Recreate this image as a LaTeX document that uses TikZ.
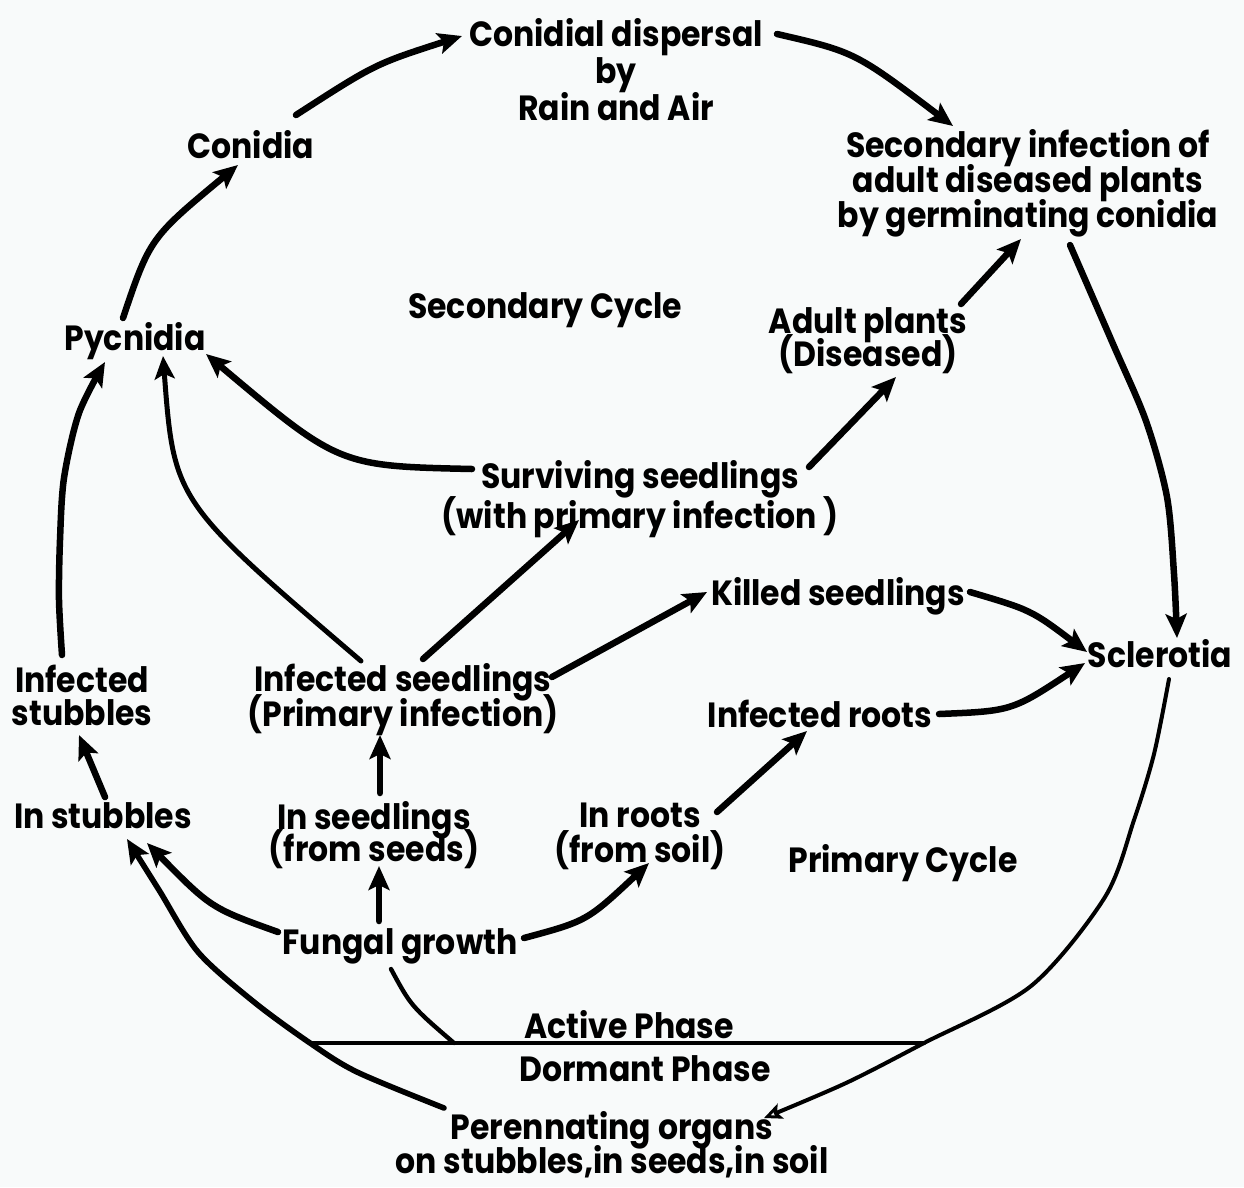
\documentclass[tikz,border=0pt]{standalone}
\usepackage{fontspec}
\setmainfont{Poppins}[UprightFont=* Bold, FakeStretch=0.9]
\usetikzlibrary{arrows.meta,calc}
\definecolor{bg}{RGB}{248,250,250}
\begin{document}
\lineskiplimit=-100pt\relax
\lineskip=0pt\relax
\begin{tikzpicture}[x=1pt,y=-1pt,
  lbl/.style={font=\fontsize{35}{35}\selectfont, align=center, inner sep=0pt},
  bs/.style={font=\fontsize{35}{#1}\selectfont},
  arr/.style={line width=6.5pt, line cap=round, -{Stealth[length=24pt,width=21pt,inset=5pt]}},
  tarr/.style={line width=5pt, line cap=round, -{Stealth[length=23pt,width=20pt,inset=5pt]}},
  marr/.style={line width=5.6pt, line cap=round, -{Stealth[length=24pt,width=21pt,inset=5pt]}},
  oarr/.style={line width=4pt, line cap=round, -{Stealth[open,length=18pt,width=16pt,inset=4pt,line width=3pt]}},
  plain/.style={line width=4.4pt, line cap=round}
]
\fill[bg] (0,0) rectangle (1244,1187);
\useasboundingbox (0,0) rectangle (1244,1187);

% nodes
\node[lbl, bs=37] (cd) at (616,70) {Conidial dispersal\\by\\Rain and Air};
\node[lbl] (con) at (251,145) {Conidia};
\node[lbl, bs=35] (sec) at (1028,183) {Secondary infection of\\adult diseased plants\\by germinating conidia};
\node[lbl] (sc) at (545,310) {Secondary Cycle};
\node[lbl] (pyc) at (135,341) {Pycnidia};
\node[lbl, bs=33] (adult) at (868,341) {Adult plants\\(Diseased)};
\node[lbl, bs=40] (surv) at (640,499) {Surviving seedlings\\(with primary infection )};
\node[lbl] (kill) at (838,596) {Killed seedlings};
\node[lbl] (scl) at (1160,654) {Sclerotia};
\node[lbl, bs=33] (infst) at (82,695) {Infected\\stubbles};
\node[lbl, bs=35] (infse) at (403,700) {Infected seedlings\\(Primary infection)};
\node[lbl] (infr) at (820,714) {Infected roots};
\node[lbl] (inst) at (103,816) {In stubbles};
\node[lbl, bs=32] (inse) at (374,835) {In seedlings\\(from seeds)};
\node[lbl, bs=35] (inro) at (640,836) {In roots\\(from soil)};
\node[lbl] (pc) at (903,863) {Primary Cycle};
\node[lbl] (fung) at (400,946) {Fungal growth};
\node[lbl] (act) at (629,1025) {Active Phase};
\node[lbl] (dorm) at (645,1069) {Dormant Phase};
\node[lbl, bs=34] (per) at (612,1145) {Perennating organs\\on stubbles,in seeds,in soil};

\coordinate (lineL) at (310,1043);
\coordinate (lineR) at (924,1043);
\coordinate (lineF) at (454,1043);

% phase divider
\draw[plain] (lineL) -- (lineR);

% connectors
\draw[arr] ($(con)+(45,-30)$) .. controls (375,64) .. ($(cd)+(-154,-34)$);
\draw[arr] ($(pyc)+(-12,-23)$) .. controls (150,238) .. ($(con)+(-13,20)$);
\draw[arr] ($(cd)+(161,-36)$) .. controls (855,52) .. ($(sec)+(-75,-57)$);
\draw[arr] ($(surv)+(-168,-30)$) .. controls (339,466) .. ($(pyc)+(71,13)$);
\draw[tarr] ($(infse)+(-42,-39)$) .. controls (174,501) .. ($(pyc)+(28,15)$);
\draw[arr] plot[smooth] coordinates {($(infst)+(-20,-40)$) (59,600) (60,540) (64,478) (79,413) ($(pyc)+(-30,21)$)};
\draw[arr] ($(infse)+(20,-41)$) -- ($(surv)+(-61,21)$);
\draw[arr] ($(surv)+(169,-32)$) -- ($(adult)+(28,36)$);
\draw[arr] ($(adult)+(93,-37)$) -- ($(sec)+(-7,56)$);
\draw[arr] plot[smooth] coordinates {($(sec)+(42,62)$) (1113,344) (1146,421) (1167,497) (1174,574) ($(scl)+(17,-16)$)};
\draw[arr] ($(infse)+(149,-23)$) -- ($(kill)+(-131,-4)$);
\draw[arr] ($(kill)+(132,-4)$) .. controls (1031,610) .. ($(scl)+(-73,-2)$);
\draw[arr] ($(infr)+(119,0)$) .. controls (1012,711) .. ($(scl)+(-75,9)$);
\draw[arr] ($(inro)+(77,-24)$) -- ($(infr)+(-13,17)$);
\draw[arr] ($(fung)+(124,-8)$) .. controls (587,921) .. ($(inro)+(9,27)$);
\draw[arr] ($(inst)+(2,-19)$) -- ($(infst)+(-3,40)$);
\draw[arr] ($(inse)+(6,-42)$) -- ($(infse)+(-23,35)$);
\draw[arr] ($(fung)+(-21,-25)$) -- ($(inse)+(5,31)$);
\draw[arr] ($(fung)+(-122,-14)$) .. controls (211,908) .. ($(inst)+(44,27)$);
\draw[marr] plot[smooth] coordinates {($(per)+(-168,-37)$) (357,1072) (310,1043) (254,1002) (198,952) (159,890) ($(inst)+(24,23)$)};
\draw[plain] ($(fung)+(-9,23)$) .. controls (411,1006) .. (lineF);
\draw[oarr] plot[smooth] coordinates {($(scl)+(9,25)$) (1154,754) (1134,820) (1105,897) (1031,986) (lineR) (846,1083) ($(per)+(152,-27)$)};
\end{tikzpicture}
\end{document}
